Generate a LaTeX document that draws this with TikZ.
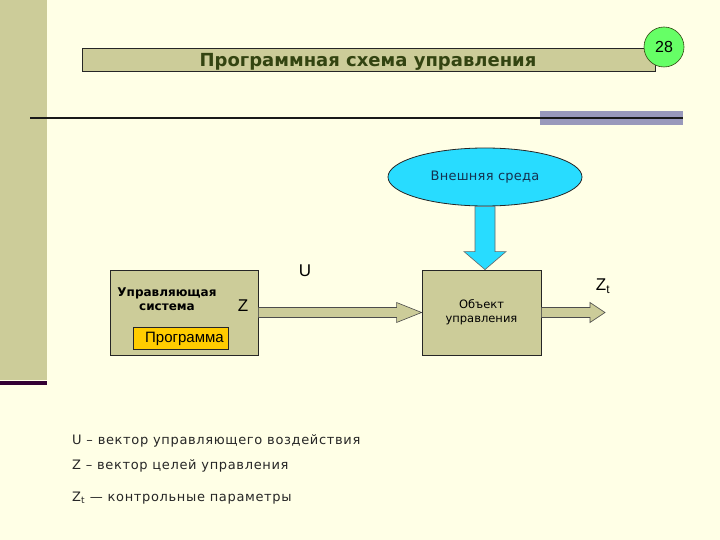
\documentclass[tikz,border=0pt]{standalone}
\usepackage{fontspec}
\setmainfont{Liberation Sans}
\newfontfamily\verdfont{DejaVu Sans}
\newfontfamily\widefont[LetterSpace=5]{DejaVu Sans}
\newfontfamily\softwide[LetterSpace=2]{DejaVu Sans}
\usetikzlibrary{shapes.geometric,calc,positioning}

\definecolor{cream}{RGB}{255,255,230}
\definecolor{khaki}{RGB}{204,204,153}
\definecolor{plum}{RGB}{51,0,51}
\definecolor{titlegreen}{RGB}{51,68,17}
\definecolor{numgreen}{RGB}{102,255,102}
\definecolor{slate}{RGB}{153,153,187}
\definecolor{skyblue}{RGB}{40,220,255}
\definecolor{amber}{RGB}{255,204,0}
\definecolor{inkblue}{RGB}{20,50,80}

\begin{document}
\begin{tikzpicture}[
  x=1pt, y=-1pt,
  every node/.style={inner sep=0pt, font=\fontsize{12}{14}\selectfont},
  block/.style={rectangle, draw=black!85, fill=khaki, line width=.8pt},
  cloud/.style={ellipse, draw=black!85, fill=skyblue, line width=.8pt, minimum width=194pt, minimum height=58pt},
  fat/.style={draw=black!70, fill=khaki, line width=.6pt},
  fatblue/.style={draw=black!60, fill=skyblue, line width=.6pt},
  legend/.style={anchor=west, text=black!85, font=\widefont\fontsize{13}{15}\selectfont}
]
  % background and side band
  \fill[cream] (0,0) rectangle (720,540);
  \fill[khaki] (0,0) rectangle (47,380);
  \fill[plum] (0,381) rectangle (47,385);

  % title
  \node[block, minimum width=573pt, minimum height=23pt, line width=.6pt] (title) at (368.5,59.5) {};
  \node[font=\verdfont\bfseries\fontsize{18}{20}\selectfont, text=titlegreen] at (368,62) {Программная схема управления};
  \node[circle, draw=titlegreen, fill=numgreen, line width=.6pt, minimum size=40pt, font=\fontsize{16}{18}\selectfont] (num) at (664,47) {28};

  \fill[slate] (540,111) rectangle (683,125);
  \draw[line width=2pt, black!90] (30,118) -- (683,118);

  % blocks
  \node[cloud, text=inkblue, font=\softwide\fontsize{13}{15}\selectfont] (env) at (485,177) {Внешняя среда};
  \node[block, minimum width=119pt, minimum height=85pt, align=center, font=\verdfont\fontsize{11.5}{14}\selectfont] (obj) at (481.5,312.5) {Объект\\управления};
  \node[block, minimum width=148pt, minimum height=85pt] (ctl) at (184,312.5) {};
  \node[align=center, font=\verdfont\bfseries\fontsize{12}{14}\selectfont] (ctltext) at (167,299) {Управляющая\\система};
  \node[rectangle, draw=black!85, fill=amber, line width=.6pt, minimum width=95pt, minimum height=22pt] (prog) at (180.5,338) {};
  \node[anchor=west, font=\fontsize{15}{17}\selectfont] (progtext) at (145,339) {Программа};

  \coordinate (zt) at (605,312.5);

  % arrows
  \draw[fat] ($(ctl.east)+(0,-5)$) -- ($(obj.west)+(-25,-5)$) -- ($(obj.west)+(-25,-10)$) -- (obj.west)
    -- ($(obj.west)+(-25,10)$) -- ($(obj.west)+(-25,5)$) -- ($(ctl.east)+(0,5)$) -- cycle;
  \draw[fat] ($(obj.east)+(0,-5)$) -- ($(zt)+(-15,-5)$) -- ($(zt)+(-15,-10)$) -- (zt)
    -- ($(zt)+(-15,10)$) -- ($(zt)+(-15,5)$) -- ($(obj.east)+(0,5)$) -- cycle;
  \draw[fatblue] ($(env.south)+(-10,0)$) -- ($(env.south |- obj.north)+(-10,-18)$) -- ($(env.south |- obj.north)+(-21,-18)$)
    -- (env.south |- obj.north) -- ($(env.south |- obj.north)+(21,-18)$) -- ($(env.south |- obj.north)+(10,-18)$)
    -- ($(env.south)+(10,0)$) -- cycle;

  % labels
  \node[font=\fontsize{17}{19}\selectfont] (u) at (305,271) {U};
  \node[font=\fontsize{17}{19}\selectfont] (z) at (243,306) {Z};
  \node[font=\fontsize{17}{19}\selectfont] (ztl) at (603,286) {Z\textsubscript{t}};

  % legend
  \node[legend] (l1) at (72,441) {U – вектор управляющего воздействия};
  \node[legend] (l2) at (72,466) {Z – вектор целей управления};
  \node[legend] (l3) at (72,498) {Z\textsubscript{t} — контрольные параметры};
\end{tikzpicture}
\end{document}
